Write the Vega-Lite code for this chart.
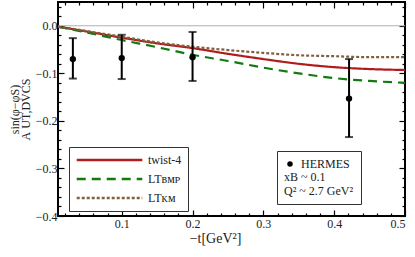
{
  "$schema": "https://vega.github.io/schema/vega-lite/v6.json",
  "width": 347,
  "height": 214,
  "autosize": "none",
  "padding": {"left": 58, "top": 2, "right": 10, "bottom": 41},
  "background": "white",
  "config": {
    "view": {"stroke": "black", "strokeWidth": 2},
    "font": "Liberation Serif",
    "axis": {"grid": false, "domain": false, "ticks": true, "zindex": 1, "tickColor": "black", "tickWidth": 1.2, "labelFont": "Liberation Serif", "labelFontSize": 12, "labelColor": "#222", "titleFont": "Liberation Serif", "titleFontWeight": "normal", "titleColor": "#222"},
    "legend": {"labelFont": "Liberation Serif", "labelFontSize": 12, "labelColor": "#222", "titleFont": "Liberation Serif", "titleFontWeight": "normal", "titleFontSize": 12, "titleColor": "#222"}
  },
  "datasets": {
    "curves": [
      {"t": 0.01, "v": -0.002, "model": "twist-4"},
      {"t": 0.05, "v": -0.012, "model": "twist-4"},
      {"t": 0.1, "v": -0.025, "model": "twist-4"},
      {"t": 0.15, "v": -0.037, "model": "twist-4"},
      {"t": 0.2, "v": -0.047, "model": "twist-4"},
      {"t": 0.25, "v": -0.059, "model": "twist-4"},
      {"t": 0.3, "v": -0.070, "model": "twist-4"},
      {"t": 0.35, "v": -0.080, "model": "twist-4"},
      {"t": 0.4, "v": -0.087, "model": "twist-4"},
      {"t": 0.45, "v": -0.091, "model": "twist-4"},
      {"t": 0.5, "v": -0.093, "model": "twist-4"},
      {"t": 0.01, "v": -0.002, "model": "LTʙᴍᴘ"},
      {"t": 0.05, "v": -0.014, "model": "LTʙᴍᴘ"},
      {"t": 0.1, "v": -0.030, "model": "LTʙᴍᴘ"},
      {"t": 0.15, "v": -0.045, "model": "LTʙᴍᴘ"},
      {"t": 0.2, "v": -0.061, "model": "LTʙᴍᴘ"},
      {"t": 0.25, "v": -0.074, "model": "LTʙᴍᴘ"},
      {"t": 0.3, "v": -0.088, "model": "LTʙᴍᴘ"},
      {"t": 0.35, "v": -0.100, "model": "LTʙᴍᴘ"},
      {"t": 0.4, "v": -0.110, "model": "LTʙᴍᴘ"},
      {"t": 0.45, "v": -0.116, "model": "LTʙᴍᴘ"},
      {"t": 0.5, "v": -0.120, "model": "LTʙᴍᴘ"},
      {"t": 0.01, "v": -0.002, "model": "LTᴋᴍ"},
      {"t": 0.05, "v": -0.011, "model": "LTᴋᴍ"},
      {"t": 0.1, "v": -0.023, "model": "LTᴋᴍ"},
      {"t": 0.15, "v": -0.035, "model": "LTᴋᴍ"},
      {"t": 0.2, "v": -0.044, "model": "LTᴋᴍ"},
      {"t": 0.25, "v": -0.051, "model": "LTᴋᴍ"},
      {"t": 0.3, "v": -0.057, "model": "LTᴋᴍ"},
      {"t": 0.35, "v": -0.062, "model": "LTᴋᴍ"},
      {"t": 0.4, "v": -0.064, "model": "LTᴋᴍ"},
      {"t": 0.45, "v": -0.066, "model": "LTᴋᴍ"},
      {"t": 0.5, "v": -0.066, "model": "LTᴋᴍ"}
    ],
    "hermes": [
      {"t": 0.031, "v": -0.070, "lo": -0.111, "hi": -0.026, "src": "HERMES"},
      {"t": 0.1, "v": -0.068, "lo": -0.112, "hi": -0.019, "src": "HERMES"},
      {"t": 0.2, "v": -0.066, "lo": -0.116, "hi": -0.013, "src": "HERMES"},
      {"t": 0.421, "v": -0.153, "lo": -0.234, "hi": -0.070, "src": "HERMES"}
    ],
    "zero": [{"v": 0}]
  },
  "resolve": {"axis": {"x": "independent", "y": "independent"}},
  "layer": [
    {
      "data": {"name": "zero"},
      "mark": {"type": "rule", "color": "#b0b0b0", "strokeWidth": 1},
      "encoding": {
        "y": {"field": "v", "type": "quantitative", "scale": {"domain": [-0.4, 0.05], "nice": false, "zero": false}, "axis": null}
      }
    },
    {
      "data": {"name": "curves"},
      "mark": {"type": "line", "strokeWidth": 2.2, "interpolate": "monotone"},
      "encoding": {
        "x": {"field": "t", "type": "quantitative", "scale": {"domain": [0.01, 0.5], "nice": false, "zero": false},
          "axis": {"orient": "bottom",
            "values": [0.02, 0.04, 0.06, 0.08, 0.1, 0.12, 0.14, 0.16, 0.18, 0.2, 0.22, 0.24, 0.26, 0.28, 0.3, 0.32, 0.34, 0.36, 0.38, 0.4, 0.42, 0.44, 0.46, 0.48, 0.5],
            "labelExpr": "abs(datum.value*10 - round(datum.value*10)) < 0.000001 ? format(datum.value, '.1f') : ''",
            "tickSize": {"condition": {"test": "abs(datum.value*10 - round(datum.value*10)) < 0.000001", "value": -6}, "value": -3},
            "labelPadding": 8,
            "title": "−t[GeV²]", "titleFontSize": 14, "titlePadding": 2, "titleX": 157}},
        "y": {"field": "v", "type": "quantitative",
          "axis": {"orient": "left",
            "values": [-0.4, -0.38, -0.36, -0.34, -0.32, -0.3, -0.28, -0.26, -0.24, -0.22, -0.2, -0.18, -0.16, -0.14, -0.12, -0.1, -0.08, -0.06, -0.04, -0.02, 0, 0.02, 0.04],
            "labelExpr": "abs(datum.value*10 - round(datum.value*10)) < 0.000001 ? format(datum.value, '.1f') : ''",
            "tickSize": {"condition": {"test": "abs(datum.value*10 - round(datum.value*10)) < 0.000001", "value": -6}, "value": -3},
            "labelPadding": 7,
            "title": ["\u00a0\u00a0\u00a0\u00a0sin(φ−φS)", "A\u00a0UT,DVCS"], "titleFontSize": 12, "titleLineHeight": 11, "titlePadding": 3}},
        "color": {"field": "model", "type": "nominal", "sort": null,
          "scale": {"domain": ["twist-4", "LTʙᴍᴘ", "LTᴋᴍ"], "range": ["#b01c1c", "#117a11", "#80603f"]},
          "legend": {"title": null, "orient": "none", "legendX": 11, "legendY": 145, "symbolType": "stroke", "symbolSize": 4300, "symbolStrokeWidth": 2.5, "clipHeight": 14, "rowPadding": 5, "padding": 6, "strokeColor": "#333", "fillColor": "white", "labelOffset": 4}},
        "strokeDash": {"field": "model", "type": "nominal", "sort": null,
          "scale": {"domain": ["twist-4", "LTʙᴍᴘ", "LTᴋᴍ"], "range": [[1, 0], [9, 6], [3, 2]]},
          "legend": {"title": null, "orient": "none", "legendX": 11, "legendY": 145, "symbolType": "stroke", "symbolSize": 4300, "symbolStrokeWidth": 2.5, "clipHeight": 14, "rowPadding": 5, "padding": 6, "strokeColor": "#333", "fillColor": "white", "labelOffset": 4}}
      }
    },
    {
      "data": {"name": "hermes"},
      "mark": {"type": "rule", "color": "black", "strokeWidth": 2},
      "encoding": {
        "x": {"field": "t", "type": "quantitative",
          "axis": {"orient": "top",
            "values": [0.02, 0.04, 0.06, 0.08, 0.1, 0.12, 0.14, 0.16, 0.18, 0.2, 0.22, 0.24, 0.26, 0.28, 0.3, 0.32, 0.34, 0.36, 0.38, 0.4, 0.42, 0.44, 0.46, 0.48, 0.5],
            "tickSize": {"condition": {"test": "abs(datum.value*10 - round(datum.value*10)) < 0.000001", "value": -6}, "value": -3},
            "labels": false, "title": null}},
        "y": {"field": "lo", "type": "quantitative",
          "axis": {"orient": "right",
            "values": [-0.4, -0.38, -0.36, -0.34, -0.32, -0.3, -0.28, -0.26, -0.24, -0.22, -0.2, -0.18, -0.16, -0.14, -0.12, -0.1, -0.08, -0.06, -0.04, -0.02, 0, 0.02, 0.04],
            "tickSize": {"condition": {"test": "abs(datum.value*10 - round(datum.value*10)) < 0.000001", "value": -6}, "value": -3},
            "labels": false, "title": null}},
        "y2": {"field": "hi"}
      }
    },
    {
      "data": {"name": "hermes"},
      "mark": {"type": "tick", "orient": "horizontal", "color": "black", "size": 8, "thickness": 2},
      "encoding": {
        "x": {"field": "t", "type": "quantitative", "axis": null},
        "y": {"field": "lo", "type": "quantitative", "axis": null}
      }
    },
    {
      "data": {"name": "hermes"},
      "mark": {"type": "tick", "orient": "horizontal", "color": "black", "size": 8, "thickness": 2},
      "encoding": {
        "x": {"field": "t", "type": "quantitative", "axis": null},
        "y": {"field": "hi", "type": "quantitative", "axis": null}
      }
    },
    {
      "data": {"name": "hermes"},
      "mark": {"type": "point", "filled": true, "color": "black", "opacity": 1, "size": 40},
      "encoding": {
        "x": {"field": "t", "type": "quantitative", "axis": null},
        "y": {"field": "v", "type": "quantitative", "axis": null},
        "shape": {"field": "src", "type": "nominal", "scale": {"range": ["circle"]},
          "legend": {"title": ["xB ~ 0.1", "Q² ~ 2.7 GeV²"], "titleOrient": "bottom", "titleAnchor": "start", "titlePadding": 2, "titleLineHeight": 14, "orient": "none", "legendX": 219, "legendY": 149, "padding": 7, "strokeColor": "#333", "fillColor": "white", "symbolFillColor": "black", "symbolStrokeColor": "black", "symbolSize": 30, "labelOffset": 5}}
      }
    }
  ]
}
